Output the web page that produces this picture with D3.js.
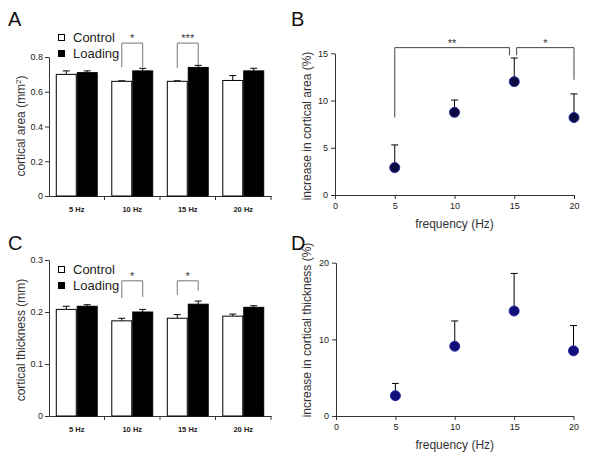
<!DOCTYPE html>
<html><head><meta charset="utf-8">
<script src="https://cdn.jsdelivr.net/npm/d3@7"></script>
<style>body{margin:0;background:#fff}svg{display:block}text{font-family:Arial,"Liberation Sans",sans-serif}</style>
</head><body><svg id="c" width="600" height="459"></svg>
<script>
const categories = ["5 Hz","10 Hz","15 Hz","20 Hz"];
const areaControl = [0.70, 0.66, 0.66, 0.665];
const areaControlErr = [0.02, 0.003, 0.003, 0.028];
const areaLoading = [0.71, 0.72, 0.74, 0.72];
const areaLoadingErr = [0.01, 0.015, 0.012, 0.015];
const thickControl = [0.205, 0.183, 0.188, 0.192];
const thickControlErr = [0.006, 0.005, 0.007, 0.004];
const thickLoading = [0.211, 0.200, 0.215, 0.209];
const thickLoadingErr = [0.003, 0.005, 0.006, 0.003];
const freq = [5, 10, 15, 20];
const areaIncrease = [2.9, 8.75, 12.0, 8.2];
const areaIncreaseErr = [2.4, 1.3, 2.5, 2.5];
const thickIncrease = [2.65, 9.1, 13.7, 8.5];
const thickIncreaseErr = [1.6, 3.3, 4.9, 3.3];
const areaTicks = [0, 0.2, 0.4, 0.6, 0.8];
const thickTicks = [0, 0.1, 0.2, 0.3];
const freqTicks = [0, 5, 10, 15, 20];
const areaIncTicks = [0, 5, 10, 15];
const thickIncTicks = [0, 10, 20];
const legendLabels = ["Control", "Loading"];
// significance brackets: category index, label, top, left leg end, right leg end
const areaSig = [{c:1, label:"*", top:0.88, l:0.742, r:0.742}, {c:2, label:"***", top:0.88, l:0.737, r:0.754}];
const thickSig = [{c:1, label:"*", top:0.26, l:0.227, r:0.229}, {c:2, label:"*", top:0.26, l:0.233, r:0.241}];
const areaIncSig = [{x1:5, x2:14.6, top:15.6, l:8.2, r:14.8, label:"**"}, {x1:15.2, x2:20, top:15.6, l:14.8, r:12.2, label:"*"}];

const svg = d3.select("#c");
const AX = "#333";

function styleAxis(g){
  g.selectAll(".domain").attr("stroke", AX);
  g.selectAll(".tick line").attr("stroke", AX);
  g.selectAll("text").attr("fill","#222").style("font-family","Arial, 'Liberation Sans', sans-serif");
}

function panelLetter(t, x, y){
  svg.append("text").attr("x", x).attr("y", y).attr("font-size", 20).attr("fill","#111").text(t);
}

function yLabel(t, x, yc){
  svg.append("text").attr("transform", `translate(${x},${yc}) rotate(-90)`)
    .attr("text-anchor","middle").attr("font-size", 12).attr("fill","#333").text(t);
}

function barPanel(opt){
  const x = d3.scaleBand().domain(categories).range([49, 271]).paddingInner(0).paddingOuter(0);
  const y = d3.scaleLinear().domain([0, opt.ymax]).range([opt.y0, opt.ytop]);
  const bw = 17;
  const inner = d3.scaleBand().domain(["c","l"]).range([0, x.bandwidth()]).paddingInner(0).paddingOuter(11/ (2*bw));
  const ya = svg.append("g").attr("transform", `translate(49,0)`)
    .call(d3.axisLeft(y).tickValues(opt.ticks).tickSize(4).tickSizeOuter(0).tickPadding(2).tickFormat(d3.format("")))
    .attr("font-size", 9);
  styleAxis(ya);
  const xa = svg.append("g").attr("transform", `translate(0,${opt.y0})`)
    .call(d3.axisBottom(x).tickSize(0).tickSizeOuter(0).tickPadding(11)).attr("font-size", 8);
  styleAxis(xa);
  xa.selectAll("text").attr("font-weight","bold").attr("font-size", 7.5);
  svg.append("g").selectAll("line").data(categories.slice(1).concat(["end"])).join("line")
    .attr("x1", d => d === "end" ? x.range()[1] : x(d)).attr("x2", d => d === "end" ? x.range()[1] : x(d))
    .attr("y1", opt.y0).attr("y2", opt.y0 + 4).attr("stroke", AX);
  const series = [
    {k:"c", v:opt.ctrl, e:opt.ctrlErr, fill:"#fff"},
    {k:"l", v:opt.load, e:opt.loadErr, fill:"#000"}
  ];
  series.forEach(s => {
    const g = svg.append("g");
    categories.forEach((c, i) => {
      const bx = x(c) + inner(s.k);
      const cx = bx + inner.bandwidth()/2;
      g.append("line").attr("x1", cx).attr("x2", cx).attr("y1", y(s.v[i])).attr("y2", y(s.v[i] + s.e[i])).attr("stroke","#000");
      g.append("line").attr("x1", cx-3.5).attr("x2", cx+3.5).attr("y1", y(s.v[i]+s.e[i])).attr("y2", y(s.v[i]+s.e[i])).attr("stroke","#000");
      g.append("rect").attr("x", bx + 0.5).attr("y", y(s.v[i])).attr("width", inner.bandwidth() - 1)
        .attr("height", y(0) - y(s.v[i])).attr("fill", s.fill).attr("stroke","#000").attr("stroke-width",1);
    });
  });
  opt.sig.forEach(s => {
    const c = categories[s.c];
    const xl = x(c) + inner("c") + inner.bandwidth()/2;
    const xr = x(c) + inner("l") + inner.bandwidth()/2;
    svg.append("path").attr("d", `M${xl},${y(s.l)}V${y(s.top)}H${xr}V${y(s.r)}`)
      .attr("fill","none").attr("stroke","#777").attr("stroke-width",1);
    svg.append("text").attr("x", (xl+xr)/2).attr("y", y(s.top) - 1).attr("text-anchor","middle")
      .attr("font-size", 11).attr("fill","#333").text(s.label);
  });
  legendLabels.forEach((t, i) => {
    const ly = opt.legY + i*16;
    svg.append("rect").attr("x", 58.5).attr("y", ly - 7.5).attr("width", 6).attr("height", 6)
      .attr("fill", i === 0 ? "#fff" : "#000").attr("stroke","#000");
    svg.append("text").attr("x", 73).attr("y", ly).attr("font-size", 13).attr("fill","#222").text(t);
  });
}

function scatterPanel(opt){
  const x = d3.scaleLinear().domain([0, 20]).range([opt.x0, opt.x1]);
  const y = d3.scaleLinear().domain([0, opt.ymax]).range([opt.y0, opt.ytop]);
  const ya = svg.append("g").attr("transform", `translate(${opt.x0},0)`)
    .call(d3.axisLeft(y).tickValues(opt.ticks).tickSize(4).tickSizeOuter(0).tickPadding(3)).attr("font-size", 9);
  styleAxis(ya);
  const xa = svg.append("g").attr("transform", `translate(0,${opt.y0})`)
    .call(d3.axisBottom(x).tickValues(freqTicks).tickSize(4).tickSizeOuter(0).tickPadding(4)).attr("font-size", 9);
  styleAxis(xa);
  svg.append("text").attr("x", (opt.x0+opt.x1)/2).attr("y", opt.y0 + 33).attr("text-anchor","middle")
    .attr("font-size", 12).attr("fill","#333").text("frequency (Hz)");
  const g = svg.append("g");
  freq.forEach((f, i) => {
    const cx = x(f);
    g.append("line").attr("x1", cx).attr("x2", cx).attr("y1", y(opt.v[i])).attr("y2", y(opt.v[i]+opt.e[i])).attr("stroke","#000");
    g.append("line").attr("x1", cx-3.5).attr("x2", cx+3.5).attr("y1", y(opt.v[i]+opt.e[i])).attr("y2", y(opt.v[i]+opt.e[i])).attr("stroke","#000");
    g.append("circle").attr("cx", cx).attr("cy", y(opt.v[i])).attr("r", 5)
      .attr("fill", opt.fill).attr("stroke", opt.stroke).attr("stroke-width", 1);
  });
  (opt.sig || []).forEach(s => {
    svg.append("path").attr("d", `M${x(s.x1)},${y(s.l)}V${y(s.top)}H${x(s.x2)}V${y(s.r)}`)
      .attr("fill","none").attr("stroke","#444").attr("stroke-width",1);
    svg.append("text").attr("x", (x(s.x1)+x(s.x2))/2).attr("y", y(s.top) - 1).attr("text-anchor","middle")
      .attr("font-size", 11).attr("fill","#333").text(s.label);
  });
}

barPanel({ymax:0.8, y0:196, ytop:57, ticks:areaTicks, ctrl:areaControl, ctrlErr:areaControlErr,
  load:areaLoading, loadErr:areaLoadingErr, sig:areaSig, legY:42});
barPanel({ymax:0.3, y0:416, ytop:260, ticks:thickTicks, ctrl:thickControl, ctrlErr:thickControlErr,
  load:thickLoading, loadErr:thickLoadingErr, sig:thickSig, legY:274});
scatterPanel({x0:335, x1:574, y0:195, ytop:53.3, ymax:15, ticks:areaIncTicks, v:areaIncrease, e:areaIncreaseErr,
  fill:"#0a0a40", stroke:"#2a2a9a", sig:areaIncSig});
scatterPanel({x0:336, x1:573.5, y0:416, ytop:262.7, ymax:20, ticks:thickIncTicks, v:thickIncrease, e:thickIncreaseErr,
  fill:"#10107a", stroke:"#2a2aa0"});

svg.append("text").attr("transform", `translate(25,126) rotate(-90)`).attr("text-anchor","middle")
  .attr("font-size", 12).attr("fill","#333")
  .call(t => { t.append("tspan").text("cortical area (mm"); t.append("tspan").attr("font-size", 8).attr("dy", -4).text("2"); t.append("tspan").attr("dy", 4).text(")"); });
yLabel("cortical thickness (mm)", 25, 340);
yLabel("increase in cortical area (%)", 311, 126);
yLabel("increase in cortical thickness (%)", 311, 330);

panelLetter("A", 8, 26);
panelLetter("B", 291, 26);
panelLetter("C", 8, 250);
panelLetter("D", 291, 250);
</script></body></html>
